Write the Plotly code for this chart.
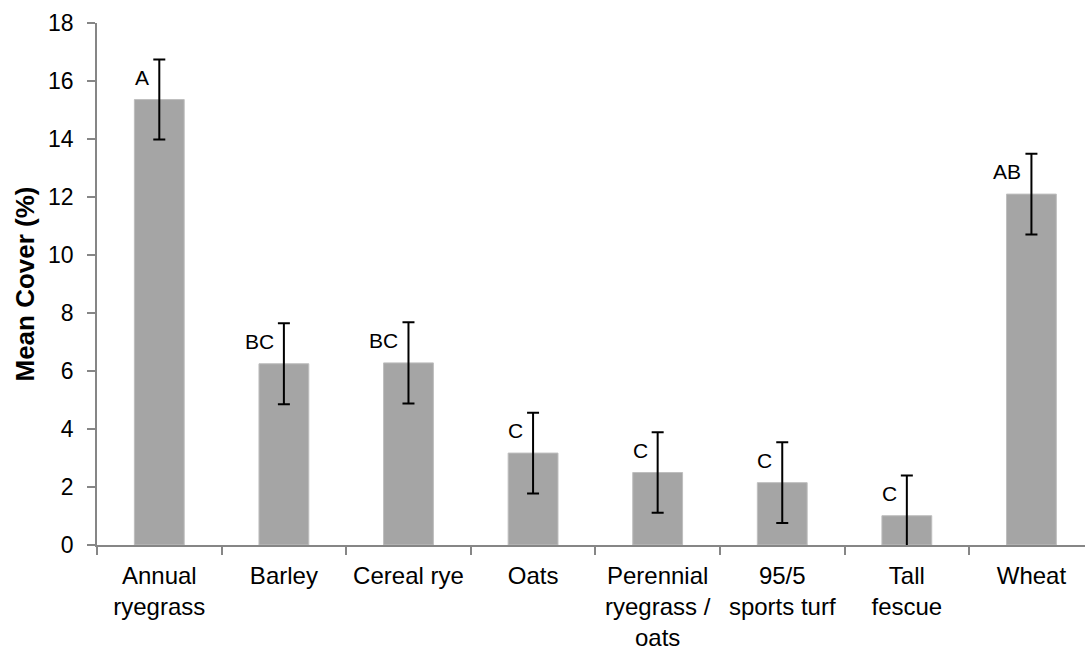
import plotly.graph_objects as go

# Mean cover per cover-crop treatment, with standard errors and letter groupings
categories = [
    "Annual<br>ryegrass",
    "Barley",
    "Cereal rye",
    "Oats",
    "Perennial<br>ryegrass /<br>oats",
    "95/5<br>sports turf",
    "Tall<br>fescue",
    "Wheat",
]
mean_cover = [15.36, 6.25, 6.28, 3.17, 2.50, 2.15, 1.01, 12.10]
std_error = [1.38, 1.40, 1.40, 1.39, 1.39, 1.39, 1.39, 1.39]
groups = ["A", "BC", "BC", "C", "C", "C", "C", "AB"]
y_ticks = [0, 2, 4, 6, 8, 10, 12, 14, 16, 18]

FONT = "Liberation Sans, Arial, sans-serif"
AXIS_GREY = "#868686"

fig = go.Figure()
fig.add_trace(go.Bar(
    x=categories,
    y=mean_cover,
    width=0.4,
    marker=dict(color="#A5A5A5", line=dict(color="#BEBEBE", width=1)),
    error_y=dict(type="data", array=std_error, visible=True,
                 color="black", thickness=2, width=6),
    showlegend=False,
))

# Significance letters, set just left of each error bar near its top
for cat, m, e, g in zip(categories, mean_cover, std_error, groups):
    fig.add_annotation(
        x=cat, y=m + e, text=g, showarrow=False,
        xanchor="right", yanchor="middle",
        xshift=-8, yshift=-18,
        font=dict(family=FONT, size=21, color="black"),
    )

fig.update_layout(
    width=1085, height=651,
    margin=dict(l=97, r=0, t=23, b=104),
    paper_bgcolor="white", plot_bgcolor="white",
    font=dict(family=FONT, color="black"),
    bargap=0.6,
)
fig.update_xaxes(
    type="category",
    range=[-0.5, 7.43],
    showline=True, linecolor=AXIS_GREY, linewidth=1.5,
    ticks="outside", tickson="boundaries", ticklen=8,
    tickcolor=AXIS_GREY, tickwidth=1.5,
    tickfont=dict(family=FONT, size=24, color="black"),
    ticklabelstandoff=8,
    showgrid=False, zeroline=False,
)
fig.update_yaxes(
    range=[0, 18],
    tickvals=y_ticks,
    showline=True, linecolor=AXIS_GREY, linewidth=1.5,
    ticks="outside", ticklen=8, tickcolor=AXIS_GREY, tickwidth=1.5,
    tickfont=dict(family=FONT, size=23, color="black"),
    ticklabelstandoff=9,
    showgrid=False, zeroline=False,
    title=dict(text="<b>Mean Cover (%)</b>",
               font=dict(family=FONT, size=26, color="black"),
               standoff=6),
)

fig.write_html("out.html")
